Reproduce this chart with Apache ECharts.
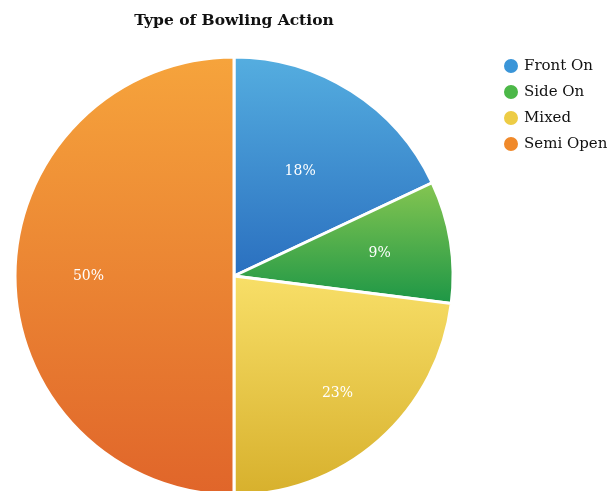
<!DOCTYPE html>
<html><head><meta charset="utf-8">
<script src="https://cdn.jsdelivr.net/npm/echarts@6/dist/echarts.min.js"></script>
<style>html,body{margin:0;padding:0;background:#fff}#c{width:608px;height:491px}</style>
</head><body><div id="c"></div>
<script>
const categories = ['Front On', 'Side On', 'Mixed', 'Semi Open'];
const values = [18, 9, 23, 50];
const topColors = ['#55aee0', '#86c651', '#f8df68', '#f6a43c'];
const bottomColors = ['#2a6fbf', '#1c9646', '#d7b02c', '#e0652a'];
const legendColors = ['#3a95d8', '#4cb848', '#edcc45', '#f0892a'];
// label distance from centre as fraction of radius (style only)
const labelRatio = [0.55, 0.66, 0.70, 0.65];

const chart = echarts.init(document.getElementById('c'));
const grad = i => new echarts.graphic.LinearGradient(0, 0, 0, 1, [
  {offset: 0, color: topColors[i]}, {offset: 1, color: bottomColors[i]}]);
const serif = '"DejaVu Serif", serif';
const R = 219, C = [234, 276];

const labelSeries = categories.map((c, k) => ({
  type: 'pie', center: C, radius: [Math.round(R * (2 * labelRatio[k] - 1)), R],
  startAngle: 90, clockwise: true, silent: true,
  itemStyle: {color: 'rgba(0,0,0,0)', borderWidth: 0},
  labelLine: {show: false},
  data: categories.map((cc, i) => ({
    name: cc + ' '.repeat(k + 1), value: values[i],
    label: {show: i === k, position: 'inside', formatter: '{c}%', color: '#fff',
      fontFamily: serif, fontSize: 14}
  }))
}));

chart.setOption({
  animation: false,
  title: {text: 'Type of Bowling Action', left: 229, textAlign: 'center', top: 8,
    textStyle: {fontFamily: serif, fontWeight: 'bold', fontSize: 15.5, color: '#111'}},
  legend: {orient: 'vertical', left: 497, top: 52, icon: 'circle', itemWidth: 16, itemHeight: 16,
    itemGap: 8, data: categories.map((c, i) => ({name: c, itemStyle: {color: legendColors[i]}})),
    textStyle: {fontFamily: serif, fontSize: 15, color: '#111'}},
  series: [{
    type: 'pie', center: C, radius: [0, R], startAngle: 90, clockwise: true,
    label: {show: false}, labelLine: {show: false},
    itemStyle: {borderColor: '#fff', borderWidth: 3},
    data: categories.map((c, i) => ({name: c, value: values[i], itemStyle: {color: grad(i)}}))
  }].concat(labelSeries)
});
</script></body></html>
